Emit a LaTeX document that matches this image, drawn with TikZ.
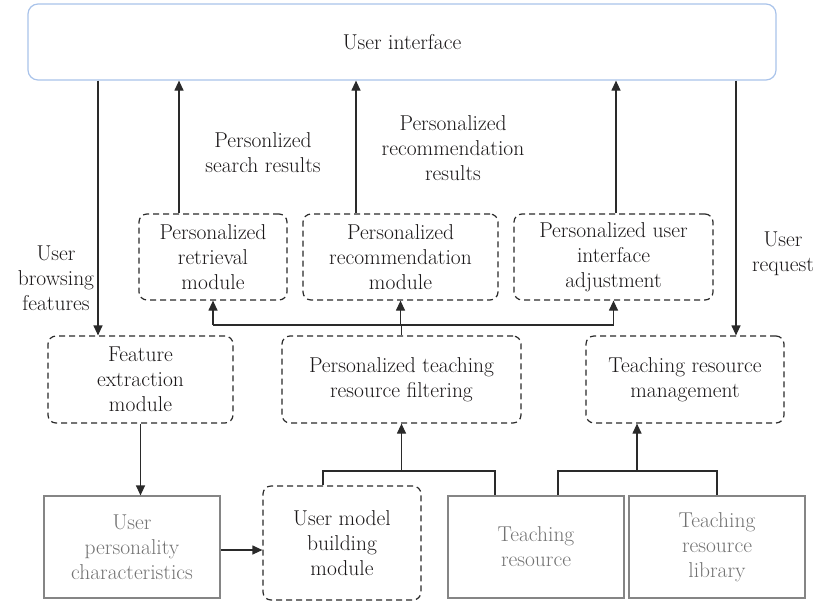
\documentclass[tikz,border=0pt]{standalone}
\usetikzlibrary{arrows.meta}
\definecolor{ink}{HTML}{1A1718}
\definecolor{wire}{HTML}{2A2A2A}
\definecolor{greyline}{HTML}{858585}
\definecolor{greytext}{HTML}{727272}
\definecolor{uiblue}{HTML}{A9C3EA}
\tikzset{
  txt/.style={font=\fontsize{21.5}{25}\selectfont, align=center, text=ink, inner sep=0pt},
  dashbox/.style={txt, draw=wire, line width=1.2pt, dash pattern=on 6pt off 4pt, rounded corners=8pt},
  greybox/.style={txt, draw=greyline, line width=1.2pt, text=greytext},
  uibox/.style={txt, draw=uiblue, line width=1.2pt, rounded corners=10pt},
  wireline/.style={draw=wire, line width=1.2pt},
  arr/.style={wireline, -{Triangle[length=10pt,width=9pt]}},
  lbl/.style={txt}
}
\begin{document}
\begin{tikzpicture}[x=1pt,y=-1pt]
\useasboundingbox (0,0) rectangle (818,603);

% top interface panel
\node[uibox, minimum width=748pt, minimum height=76pt] (ui) at (402,42) {User interface};

% personalization modules
\node[dashbox, minimum width=148pt, minimum height=86pt] (ret) at (213,257) {Personalized\\retrieval\\module};
\node[dashbox, minimum width=195pt, minimum height=86pt] (rec) at (400.5,257) {Personalized\\recommendation\\module};
\node[dashbox, minimum width=199pt, minimum height=86pt] (adj) at (613.5,257) {Personalized user\\interface\\adjustment};

% middle row
\node[dashbox, minimum width=185pt, minimum height=87pt] (fea) at (140.5,379.5) {Feature\\extraction\\module};
\node[dashbox, minimum width=239pt, minimum height=87pt] (fil) at (401.5,379.5) {Personalized teaching\\resource filtering};
\node[dashbox, minimum width=198pt, minimum height=87pt] (man) at (685,379.5) {Teaching resource\\management};

% bottom row
\node[greybox, minimum width=176pt, minimum height=102pt] (per) at (132,547) {User\\personality\\characteristics};
\node[dashbox, minimum width=158pt, minimum height=114pt] (umb) at (342,543) {User model\\building\\module};
\node[greybox, minimum width=176pt, minimum height=102pt] (tr) at (536,547) {Teaching\\resource};
\node[greybox, minimum width=176pt, minimum height=102pt] (lib) at (717,547) {Teaching\\resource\\library};

% edge labels
\node[lbl] (lbrowse) at (56,278) {User\\browsing\\features};
\node[lbl] (lsearch) at (263,153) {Personlized\\search results};
\node[lbl] (lrec) at (453,148) {Personalized\\recommendation\\results};
\node[lbl] (lreq) at (783,254) {User\\request};

% connector columns and rails
\coordinate (cBrowse) at (98,0);
\coordinate (cSearch) at (179,0);
\coordinate (cRec) at (356,0);
\coordinate (cAdj) at (616,0);
\coordinate (cReq) at (736,0);
\coordinate (bus) at (0,325);
\coordinate (cUmb) at (323,0);
\coordinate (cTr) at (495,0);
\coordinate (cTrL) at (558,0);
\coordinate (cMan) at (637,0);
\coordinate (rail) at (0,471);

% links to and from the interface panel
\draw[arr] (cBrowse |- ui.south) -- (cBrowse |- fea.north);
\draw[arr] (cSearch |- ret.north) -- (cSearch |- ui.south);
\draw[arr] (cRec |- rec.north) -- (cRec |- ui.south);
\draw[arr] (cAdj |- adj.north) -- (cAdj |- ui.south);
\draw[arr] (cReq |- ui.south) -- (cReq |- man.north);

% filtering output feeding the three modules
\draw[wireline] (ret.south |- bus) -- (adj.south |- bus);
\draw[wireline] (fil.north) -- (fil.north |- bus);
\draw[arr] (ret.south |- bus) -- (ret.south);
\draw[arr] (rec.south |- bus) -- (rec.south);
\draw[arr] (adj.south |- bus) -- (adj.south);

% feature chain
\draw[arr] (fea.south) -- (fea.south |- per.north);
\draw[arr] (per.east |- 0,550) -- (umb.west |- 0,550);

% inputs of the filtering module
\draw[wireline] (cUmb |- umb.north) -- (cUmb |- rail) -- (cTr |- rail) -- (cTr |- tr.north);
\draw[arr] (fil.south |- rail) -- (fil.south);

% inputs of resource management
\draw[wireline] (cTrL |- tr.north) -- (cTrL |- rail) -- (lib.north |- rail) -- (lib.north);
\draw[arr] (cMan |- rail) -- (cMan |- man.south);
\end{tikzpicture}
\end{document}
